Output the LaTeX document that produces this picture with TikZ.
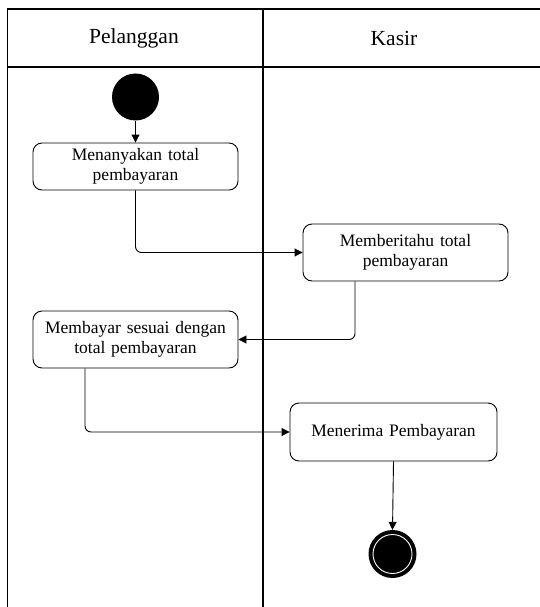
\documentclass[tikz,border=0pt]{standalone}
\usepackage{fontspec}
\setmainfont{Liberation Serif}
\usetikzlibrary{arrows.meta}

\tikzset{
  lane/.style={line width=1.4pt, black},
  act/.style={draw, line width=0.9pt, rounded corners=9pt, align=center,
    inner sep=0pt, text width=200pt,
    font=\fontsize{17.5}{20.5}\selectfont},
  lanehead/.style={font=\fontsize{21.5}{25}\selectfont},
  flow/.style={line width=0.9pt, rounded corners=6pt,
    -{Triangle[length=8pt,width=8pt]}},
}

\begin{document}
\begin{tikzpicture}[x=1pt, y=-1pt]
  % canvas
  \path[use as bounding box, fill=white] (0,0) rectangle (540,607);

  % swimlane frame
  \draw[lane] (7.5,607) -- (7.5,9) -- (540,9);
  \draw[lane] (7.5,67) -- (540,67);
  \draw[lane] (263,9) -- (263,607);

  % lane headers
  \node[lanehead] (hcust) at (134,38) {Pelanggan};
  \node[lanehead] (hcash) at (394,38) {Kasir};

  % initial node
  \node[circle, fill=black, minimum size=47pt, inner sep=0pt] (start) at (135.5,97) {};

  % activities
  \node[act, minimum width=205pt, minimum height=47pt] (ask) at (135.5,166.5)
    {Menanyakan total\\pembayaran};
  \node[act, minimum width=205pt, minimum height=57pt] (tell) at (405.5,252.5)
    {Memberitahu total\\pembayaran};
  \node[act, minimum width=205pt, minimum height=57pt] (pay) at (135.5,339.5)
    {Membayar sesuai dengan\\total pembayaran};
  \node[act, minimum width=207pt, minimum height=58pt] (recv) at (393.5,432)
    {Menerima Pembayaran};

  % final node
  \node[circle, fill=black, minimum size=48pt, inner sep=0pt] (final) at (392.5,554) {};
  \draw[white, line width=0.9pt] (final.center) circle[radius=19.5pt];

  % control flow
  \draw[flow] (start.south) -- (ask.north);
  \draw[flow] (ask.south) |- (tell.west);
  \draw[flow] ([xshift=-50.5pt]tell.south) |- (pay.east);
  \draw[flow] ([xshift=-50.5pt]pay.south) |- (recv.west);
  \draw[flow] (recv.south) -- (final.north);
\end{tikzpicture}
\end{document}
